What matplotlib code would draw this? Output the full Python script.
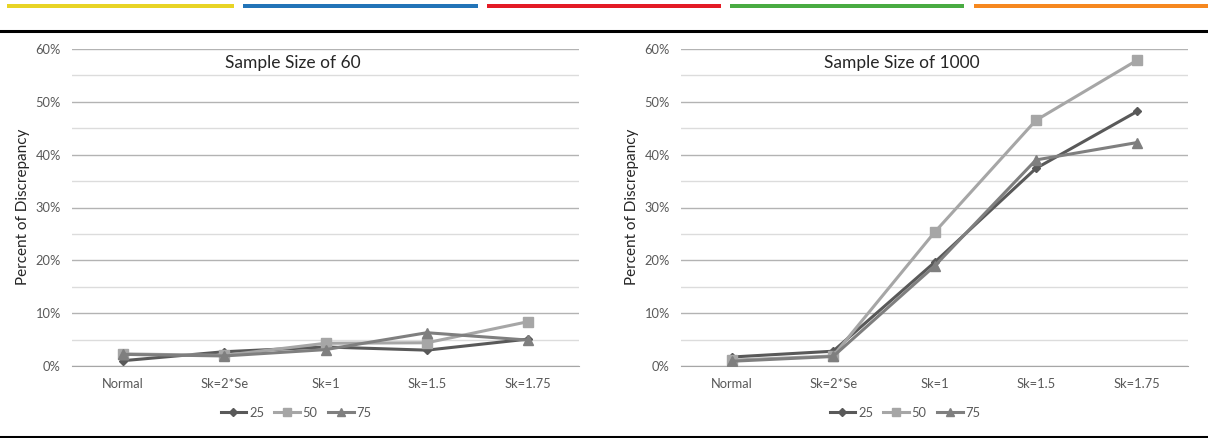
import numpy as np
import matplotlib
matplotlib.use("Agg")
from matplotlib import pyplot as plt
from matplotlib.ticker import PercentFormatter, MultipleLocator
from matplotlib.lines import Line2D
from matplotlib.patches import Rectangle

plt.rcParams['font.family'] = ['Lato', 'DejaVu Sans']

categories = ['Normal', 'Sk=2*Se', 'Sk=1', 'Sk=1.5', 'Sk=1.75']
series = ['25', '50', '75']

# sample size 60
n60_25 = [1.0, 2.7, 3.6, 3.0, 5.1]
n60_50 = [2.3, 2.0, 4.3, 4.4, 8.4]
n60_75 = [2.2, 1.9, 3.1, 6.3, 4.9]
# sample size 1000
n1000_25 = [1.7, 2.8, 19.6, 37.4, 48.2]
n1000_50 = [1.1, 1.9, 25.3, 46.5, 57.9]
n1000_75 = [0.9, 1.8, 18.9, 39.0, 42.3]

panels = [('Sample Size of 60', [n60_25, n60_50, n60_75]),
          ('Sample Size of 1000', [n1000_25, n1000_50, n1000_75])]

colors = ['#595959', '#a6a6a6', '#7f7f7f']
markers = ['D', 's', '^']
msizes = [4.5, 6.5, 7]
tick_col = '#595959'

W, H = 1208.0, 438.0
fig = plt.figure(figsize=(W / 100, H / 100), dpi=100)

# decorative strip on top
bar_cols = ['#e8d425', '#2274b8', '#e31b25', '#49ab42', '#f6881f']
bar_x = [(7, 234), (243, 478), (487, 721), (730, 964), (974, 1208)]
for c, (a, b) in zip(bar_cols, bar_x):
    fig.add_artist(Rectangle((a / W, 1 - 8 / H), (b - a) / W, 4 / H,
                             transform=fig.transFigure, color=c, lw=0))
fig.add_artist(Line2D([0, 1], [1 - 31 / H, 1 - 31 / H], color='black', lw=2.2))
fig.add_artist(Line2D([0, 1], [1 - 436.5 / H, 1 - 436.5 / H], color='black', lw=2.2))

lefts = [72, 681]
x = np.arange(len(categories))
for (title, data), left in zip(panels, lefts):
    ax = fig.add_axes([left / W, (H - 366) / H, 507 / W, 317 / H])
    for vals, c, m, ms, lab in zip(data, colors, markers, msizes, series):
        ax.plot(x, vals, color=c, marker=m, markersize=ms, lw=2.2, label=lab,
                markeredgecolor=c, zorder=3)
    ax.set_xlim(-0.5, 4.5)
    ax.set_ylim(0, 60)
    ax.yaxis.set_major_locator(MultipleLocator(10))
    ax.yaxis.set_minor_locator(MultipleLocator(5))
    ax.yaxis.set_major_formatter(PercentFormatter(decimals=0))
    ax.set_xticks(x, categories)
    ax.grid(axis='y', which='major', color='#b3b3b3', lw=1)
    ax.grid(axis='y', which='minor', color='#dcdcdc', lw=1)
    ax.set_axisbelow(True)
    for s in ['top', 'right', 'left']:
        ax.spines[s].set_visible(False)
    ax.spines['bottom'].set_color('#a6a6a6')
    ax.tick_params(axis='both', which='both', length=0, labelsize=9.3,
                   labelcolor=tick_col)
    ax.tick_params(axis='y', pad=8)
    ax.tick_params(axis='x', pad=9)
    ax.text((293 - 72) / 507, (366 - 63) / 317, title, transform=ax.transAxes,
            ha='center', va='center', fontsize=12.5, color='#262626')
    fig.text((left - 49) / W, 1 - 207 / H, 'Percent of Discrepancy',
             rotation=90, ha='center', va='center', fontsize=11, color='#262626')
    ax.legend(loc='center', bbox_to_anchor=((296 - 72) / 507, (366 - 413) / 317),
              ncol=3, frameon=False, fontsize=9.3, handlelength=2.0,
              handletextpad=0.2, columnspacing=0.8, labelcolor=tick_col,
              markerscale=0.85)

fig.savefig('out.png', dpi=100)
